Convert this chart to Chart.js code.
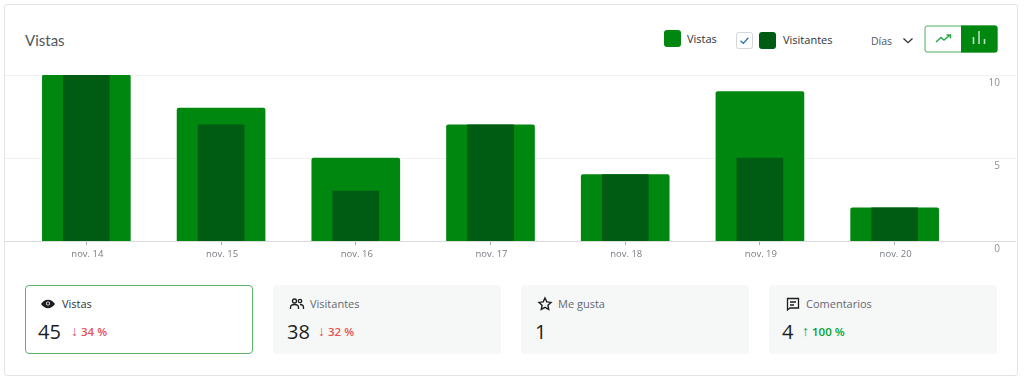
<!DOCTYPE html>
<html lang="es">
<head>
<meta charset="utf-8">
<title>Vistas</title>
<script src="https://cdn.jsdelivr.net/npm/chart.js@4"></script>
<style>
  html, body { margin: 0; background: #fff; }
  body { width: 1024px; height: 382px; position: relative; overflow: hidden; font-family: "Open Sans", sans-serif; color: #1e1e1e; }
  .abs { position: absolute; }
  #frame { left: 4px; top: 4px; width: 1012px; height: 370px; border: 1px solid #e2e3e4; border-radius: 3px; }
  #chartBox { left: 5px; top: 60px; width: 1011px; height: 210px; }
  #title { left: 25px; top: 30px; font: 15px/20px Lato, sans-serif; color: #50575e; }
  .swatch { width: 17px; height: 17px; border-radius: 3px; }
  .legendText { font-size: 11px; line-height: 16px; color: #2c3338; }
  .stat { top: 285px; width: 228px; height: 69px; border-radius: 4px; background: #f6f7f7; box-sizing: border-box; }
  .stat.active { background: #fff; border: 1px solid #5cb46a; }
  .statLabel { position: absolute; top: 11px; font-size: 11px; line-height: 16px; color: #646970; white-space: nowrap; }
  .stat.active .statLabel { color: #2c3338; }
  .statIcon { position: absolute; top: 11px; width: 16px; height: 16px; }
  .statValue { position: absolute; top: 32px; font-size: 20px; line-height: 30px; color: #1e1e1e; }
  .statDelta { position: absolute; top: 38px; font-size: 11.5px; line-height: 16px; font-weight: 600; white-space: nowrap; }
  .statDelta span { font-size: 14px; font-weight: 400; }
  .down { color: #e65054; }
  .up { color: #00a32a; }
</style>
</head>
<body>
<div class="abs" id="frame"></div>
<div class="abs" id="title">Vistas</div>

<div class="abs swatch" style="left:664px;top:30px;background:#008710"></div>
<div class="abs legendText" style="left:687px;top:31px">Vistas</div>
<svg class="abs" style="left:736px;top:32px" width="17" height="17" viewBox="0 0 17 17">
  <rect x="0.5" y="0.5" width="16" height="16" rx="2" fill="#fff" stroke="#d5d6d8"/>
  <path d="M4.5 8.8l2.8 2.6 5-5.6" fill="none" stroke="#2271b1" stroke-width="1.3"/>
</svg>
<div class="abs swatch" style="left:759px;top:32px;background:#005c12"></div>
<div class="abs legendText" style="left:783px;top:32px">Visitantes</div>
<div class="abs legendText" style="left:871px;top:33px;font-size:10.5px;color:#50575e">Días</div>
<svg class="abs" style="left:902px;top:37px" width="12" height="8" viewBox="0 0 12 8">
  <path d="M1.5 1.5l4.5 4.2 4.5-4.2" fill="none" stroke="#2c3338" stroke-width="1.3"/>
</svg>
<svg class="abs" style="left:924px;top:25px" width="74" height="28" viewBox="0 0 74 28">
  <rect x="1" y="1" width="72" height="26" rx="2" fill="#fff" stroke="#4fae5f" stroke-width="1"/>
  <path d="M37 0.5h34a2.500 2.500 0 0 1 2.500 2.500v22a2.500 2.500 0 0 1-2.500 2.500h-34z" fill="#008710"/>
  <path d="M12 17l5-4.500 3 2.500 6-5M22.500 10H26.500V13.500" fill="none" stroke="#2ba84a" stroke-width="1.500"/>
  <path d="M49.500 19V12M55 19V6M60.500 19V14" fill="none" stroke="#b9e0c0" stroke-width="1.600"/>
</svg>

<div class="abs" id="chartBox"><canvas id="viewsChart"></canvas></div>
<div id="stats"></div>

<script>
const categories = ["nov. 14", "nov. 15", "nov. 16", "nov. 17", "nov. 18", "nov. 19", "nov. 20"];
const vistas = [10, 8, 5, 7, 4, 9, 2];
const visitantes = [10, 7, 3, 7, 4, 5, 2];
const yTicks = [0, 5, 10];

const statLabels = ["Vistas", "Visitantes", "Me gusta", "Comentarios"];
const statValues = ["45", "38", "1", "4"];
const statArrows = ["↓", "↓", "", "↑"];
const statDeltas = ["34 %", "32 %", "", "100 %"];
const statDeltaClass = ["down", "down", "", "up"];

// Icons for the four cards below the chart
const statIcons = [
  '<path d="M1 8c1.800-2.700 4.300-4.200 7-4.200S13.200 5.300 15 8c-1.800 2.700-4.300 4.200-7 4.200S2.800 10.700 1 8z" fill="#1e1e1e"/><circle cx="8" cy="7.500" r="2" fill="#fff"/><circle cx="8" cy="7.500" r="1.200" fill="#1e1e1e"/>',
  '<circle cx="5.500" cy="5" r="2" fill="none" stroke="#1e1e1e" stroke-width="1.300"/><circle cx="11" cy="5" r="1.700" fill="none" stroke="#1e1e1e" stroke-width="1.300"/><path d="M1.500 13v-1.500c0-1.800 1.600-3 4-3s4 1.200 4 3V13M11 8.500c2 0 3.500 1 3.500 3V13" fill="none" stroke="#1e1e1e" stroke-width="1.300"/>',
  '<path d="M8 2l1.800 3.900 4.200.5-3.100 2.800.8 4.200L8 11.300l-3.700 2.100.8-4.200L2 6.400l4.200-.5z" fill="none" stroke="#1e1e1e" stroke-width="1.400"/>',
  '<path d="M2.500 2.500h11v9.500H5l-2.500 2z" fill="none" stroke="#1e1e1e" stroke-width="1.300"/><path d="M5 6h6M5 9h4" stroke="#1e1e1e" stroke-width="1.300"/>'
];

// left edge of card, then text offsets
const statLefts = [25, 273, 521, 769];
const labelOffsets = [37, 37, 37, 37];
const iconOffsets = [15, 16, 16, 16];
const valueOffsets = [13, 14, 14, 13];
const deltaOffsets = [46, 45, 0, 33];

const statsEl = document.getElementById("stats");
statLabels.forEach((label, i) => {
  const card = document.createElement("div");
  card.className = "abs stat" + (i === 0 ? " active" : "");
  card.style.left = statLefts[i] + "px";
  const shift = i === 0 ? -1 : 0; // border of the active card
  let html =
    `<svg class="statIcon" style="left:${iconOffsets[i] + shift}px;top:${11 + shift}px" viewBox="0 0 16 16">${statIcons[i]}</svg>` +
    `<div class="statLabel" style="left:${labelOffsets[i] + shift}px;top:${11 + shift}px">${label}</div>` +
    `<div class="statValue" style="left:${valueOffsets[i] + shift}px;top:${32 + shift}px">${statValues[i]}</div>`;
  if (statDeltas[i]) {
    html += `<div class="statDelta ${statDeltaClass[i]}" style="left:${deltaOffsets[i] + shift}px;top:${38 + shift}px"><span>${statArrows[i]}</span> ${statDeltas[i]}</div>`;
  }
  card.innerHTML = html;
  statsEl.appendChild(card);
});

// Grid lines run the full width of the card, past the plot area
const fullWidthGrid = {
  id: "fullWidthGrid",
  beforeDatasetsDraw(chart) {
    const { ctx, scales, width } = chart;
    ctx.save();
    yTicks.forEach((tick) => {
      const y = Math.round(scales.y.getPixelForValue(tick)) + 0.5;
      ctx.strokeStyle = tick === 0 ? "#dcdcde" : "#f0f0f1";
      ctx.lineWidth = 1;
      ctx.beginPath();
      ctx.moveTo(0, y);
      ctx.lineTo(width, y);
      ctx.stroke();
    });
    ctx.restore();
  },
};

const chart = new Chart(document.getElementById("viewsChart").getContext("2d"), {
  type: "bar",
  data: {
    labels: categories,
    datasets: [
      {
        label: "Visitantes",
        data: visitantes,
        backgroundColor: "#005c12",
        barThickness: 46,
        order: 1,
      },
      {
        label: "Vistas",
        data: vistas,
        backgroundColor: "#008710",
        barThickness: 88,
        borderRadius: { topLeft: 2, topRight: 2 },
        borderSkipped: "bottom",
        order: 2,
      },
    ],
  },
  options: {
    responsive: true,
    maintainAspectRatio: false,
    animation: false,
    layout: { padding: { top: 15, left: 14, right: 16, bottom: 0 } },
    datasets: { bar: { grouped: false } },
    plugins: {
      legend: { display: false },
      tooltip: { enabled: false },
    },
    scales: {
      x: {
        grid: { display: true, offset: false, drawOnChartArea: false, drawTicks: true, tickLength: 4, tickColor: "#a7aaad" },
        border: { display: false },
        ticks: {
          color: "#787c82",
          font: { family: "'Open Sans', sans-serif", size: 9.5 },
          padding: 4,
          labelOffset: 1,
          maxRotation: 0,
        },
        afterFit(scale) {
          scale.height = 29;
        },
      },
      y: {
        position: "right",
        min: 0,
        max: 10,
        grid: { display: false, drawTicks: false },
        border: { display: false },
        afterBuildTicks(scale) {
          scale.ticks = yTicks.map((value) => ({ value }));
        },
        ticks: {
          color: "#8c8f94",
          font: { family: "'Open Sans', sans-serif", size: 10 },
          labelOffset: 8,
          crossAlign: "far",
          padding: 0,
        },
        afterFit(scale) {
          scale.width = 38;
        },
      },
    },
  },
  plugins: [fullWidthGrid],
});
</script>
</body>
</html>
